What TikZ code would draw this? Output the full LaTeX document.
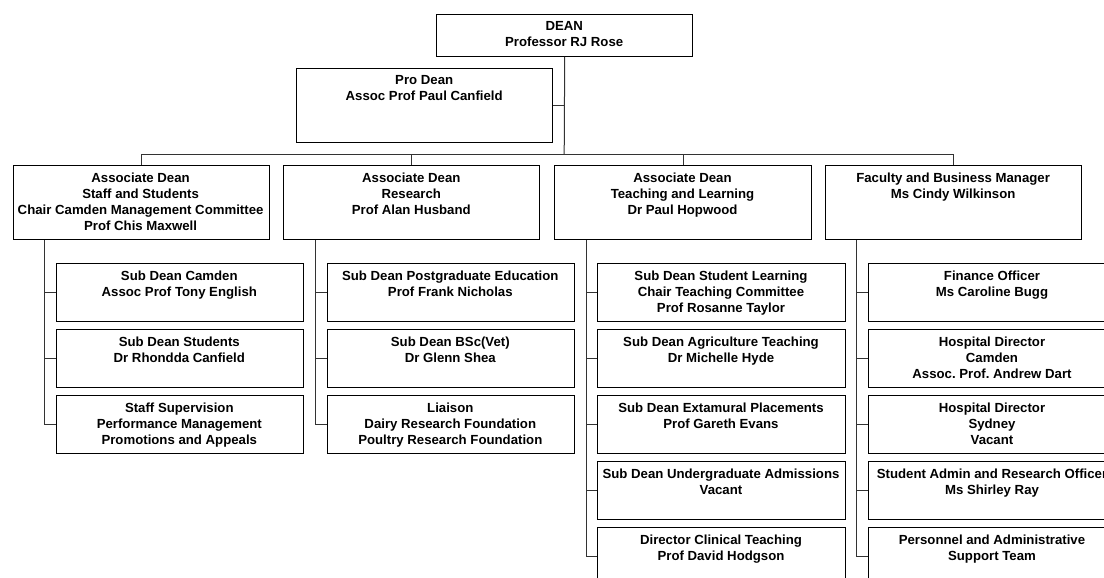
\documentclass[tikz,border=0pt]{standalone}
\usepackage{fontspec}
\setmainfont{Liberation Sans}
\frenchspacing
\tikzset{
  box/.style={draw=black, line width=1.1pt, fill=white, inner sep=0pt},
  txt/.style={inner sep=0pt, align=center, font=\fontsize{13.2}{16}\selectfont\bfseries\frenchspacing,
              execute at begin node=\rule{0pt}{10pt}},
  conn/.style={draw=black!80, line width=1pt}
}
% #1 name, #2 left x, #3 width, #4 top y, #5 height, #6 text centre x, #7 text
\newcommand\orgbox[7]{%
  \node[box, minimum width=#3, minimum height=#5, anchor=north west] (#1) at (#2,#4) {};
  \node[txt, anchor=north] (#1t) at (#6,#4+7) {#7};
}
\begin{document}
\begin{tikzpicture}[x=1pt,y=-1pt]
\useasboundingbox (0,0) rectangle (1104,578);
\clip (0,0) rectangle (1104,578);

% top
\orgbox{dean}{436}{256.3}{14}{41.7}{564.2}{DEAN\\Professor RJ Rose}
\orgbox{pro}{296}{256.3}{68}{74}{424.2}{Pro Dean\\Assoc Prof Paul Canfield}

% associate level
\orgbox{a1}{12.5}{256.2}{165.3}{74}{140.6}{Associate Dean\\Staff and Students\\Chair Camden Management Committee\\Prof Chis Maxwell}
\orgbox{a2}{283.2}{256.1}{165.3}{74}{411.3}{Associate Dean\\Research\\Prof Alan Husband}
\orgbox{a3}{554.3}{256.4}{165.3}{74}{682.5}{Associate Dean\\Teaching and Learning\\Dr Paul Hopwood}
\orgbox{a4}{825.3}{255.7}{165.3}{74}{953.1}{Faculty and Business Manager\\Ms Cindy Wilkinson}

% column 1
\orgbox{c11}{55.7}{247.2}{263.3}{57.7}{179.3}{Sub Dean Camden\\Assoc Prof Tony English}
\orgbox{c12}{55.7}{247.2}{329.3}{57.7}{179.3}{Sub Dean Students\\Dr Rhondda Canfield}
\orgbox{c13}{55.7}{247.2}{395.3}{57.7}{179.3}{Staff Supervision\\Performance Management\\Promotions and Appeals}

% column 2
\orgbox{c21}{326.8}{247}{263.3}{57.7}{450.3}{Sub Dean Postgraduate Education\\Prof Frank Nicholas}
\orgbox{c22}{326.8}{247}{329.3}{57.7}{450.3}{Sub Dean BSc(Vet)\\Dr Glenn Shea}
\orgbox{c23}{326.8}{247}{395.3}{57.7}{450.3}{Liaison\\Dairy Research Foundation\\Poultry Research Foundation}

% column 3
\orgbox{c31}{597.3}{247.4}{263.3}{57.7}{721}{Sub Dean Student Learning\\Chair Teaching Committee\\Prof Rosanne Taylor}
\orgbox{c32}{597.3}{247.4}{329.3}{57.7}{721}{Sub Dean Agriculture Teaching\\Dr Michelle Hyde}
\orgbox{c33}{597.3}{247.4}{395.3}{57.7}{721}{Sub Dean Extamural Placements\\Prof Gareth Evans}
\orgbox{c34}{597.3}{247.4}{461.3}{57.7}{721}{Sub Dean Undergraduate Admissions\\Vacant}
\orgbox{c35}{597.3}{247.4}{527.3}{57.7}{721}{Director Clinical Teaching\\Prof David Hodgson}

% column 4
\orgbox{c41}{868.3}{247.4}{263.3}{57.7}{992}{Finance Officer\\Ms Caroline Bugg}
\orgbox{c42}{868.3}{247.4}{329.3}{57.7}{992}{Hospital Director\\Camden\\Assoc. Prof. Andrew Dart}
\orgbox{c43}{868.3}{247.4}{395.3}{57.7}{992}{Hospital Director\\Sydney\\Vacant}
\orgbox{c44}{868.3}{247.4}{461.3}{57.7}{992}{Student Admin and Research Officer\\Ms Shirley Ray}
\orgbox{c45}{868.3}{247.4}{527.3}{57.7}{992}{Personnel and Administrative\\Support Team}

% connectors: top
\coordinate (bar) at (564.2,154);
\draw[conn] (dean.south) -- (bar);
\draw[conn] (pro.east) -- (pro.east -| dean.south);
\draw[conn] (a1.north) |- (a4.north |- bar) -- (a4.north);
\draw[conn] (a2.north) -- (a2.north |- bar);
\draw[conn] (a3.north) -- (a3.north |- bar);

% spines
\coordinate (s1) at (44.3,0);
\coordinate (s2) at (315,0);
\coordinate (s3) at (586,0);
\coordinate (s4) at (856.7,0);
\draw[conn] (a1.south -| s1) |- (c13.west);
\draw[conn] (s1 |- c11.west) -- (c11.west);
\draw[conn] (s1 |- c12.west) -- (c12.west);
\draw[conn] (a2.south -| s2) |- (c23.west);
\draw[conn] (s2 |- c21.west) -- (c21.west);
\draw[conn] (s2 |- c22.west) -- (c22.west);
\draw[conn] (a3.south -| s3) |- (c35.west);
\draw[conn] (s3 |- c31.west) -- (c31.west);
\draw[conn] (s3 |- c32.west) -- (c32.west);
\draw[conn] (s3 |- c33.west) -- (c33.west);
\draw[conn] (s3 |- c34.west) -- (c34.west);
\draw[conn] (a4.south -| s4) |- (c45.west);
\draw[conn] (s4 |- c41.west) -- (c41.west);
\draw[conn] (s4 |- c42.west) -- (c42.west);
\draw[conn] (s4 |- c43.west) -- (c43.west);
\draw[conn] (s4 |- c44.west) -- (c44.west);
\end{tikzpicture}
\end{document}
